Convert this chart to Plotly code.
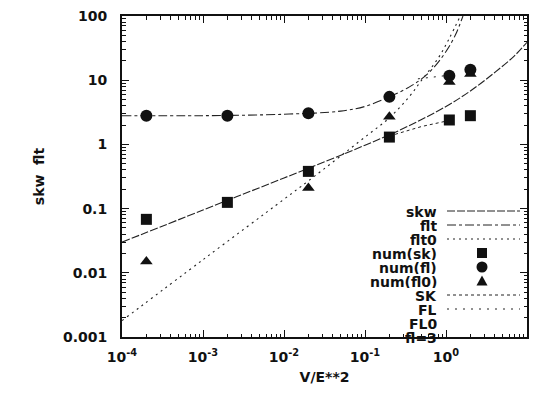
import plotly.graph_objects as go

# ---------------- data ----------------
num_x = [2e-4, 2e-3, 2e-2, 0.2, 1.1, 2.0]
num_sk = [0.068, 0.125, 0.38, 1.3, 2.4, 2.8]
num_fl = [2.8, 2.8, 3.05, 5.5, 11.7, 14.5]
num_fl0_x = [2e-4, 2e-2, 0.2, 1.1, 2.0]
num_fl0 = [0.015, 0.21, 2.7, 9.4, 12.5]

skw_x = [1e-4, 1e-3, 1e-2, 0.1, 0.3, 1.0, 2.0, 4.0, 7.0, 10.0]
skw_y = [0.030, 0.095, 0.30, 0.97, 1.78, 3.9, 6.8, 13.2, 24.0, 39.0]

flt_x = [1e-4, 1e-3, 1e-2, 0.05, 0.1, 0.2, 0.35, 0.5, 0.7, 1.0, 1.3, 1.62]
flt_y = [2.8, 2.8, 2.95, 3.3, 3.9, 5.5, 7.8, 10.5, 15.5, 28.0, 50.0, 100.0]

flt0_x = [1e-4, 1e-3, 1e-2, 2e-2, 0.1, 0.2, 0.35, 0.5, 0.8, 1.1, 1.5]
flt0_y = [0.0018, 0.016, 0.14, 0.27, 1.3, 2.6, 5.5, 10.0, 22.0, 45.0, 100.0]

sk_x = [0.2, 0.5, 1.0]
sk_y = [1.35, 1.9, 2.3]
fl_x = [0.45, 0.7, 1.0]
fl_y = [10.5, 11.3, 11.8]

legend_names = ["skw", "flt", "flt0", "num(sk)", "num(fl)", "num(fl0)", "SK", "FL", "FL0", "fl=3"]

y_tickvals = [0.001, 0.01, 0.1, 1, 10, 100]
y_ticktext = ["0.001", "0.01", "0.1", "1", "10", "100"]
x_tickvals = [1e-4, 1e-3, 1e-2, 1e-1, 1, 10]
x_ticktext = ["10<sup>-4</sup>", "10<sup>-3</sup>", "10<sup>-2</sup>", "10<sup>-1</sup>",
              "10<sup>0</sup>", "10<sup>1</sup>"]

# ---------------- styling ----------------
INK = "#111111"
LINE = "#222222"
FONT = "DejaVu Sans"
W_FIG, H_FIG = 540, 396
L, R, T, B = 122, 527, 16, 337

def px(x):
    return (x - L) / (R - L)

def py(y):
    return (B - y) / (B - T)

fig = go.Figure()

line_styles = {
    "skw": "8px,2px",
    "flt": "dashdot",
    "flt0": "2px,4px",
    "SK": "dot",
    "FL": "2px,6px",
}

fig.add_trace(go.Scatter(x=skw_x, y=skw_y, mode="lines", line=dict(color=LINE, width=1.1, dash=line_styles["skw"], shape="spline")))
fig.add_trace(go.Scatter(x=flt_x, y=flt_y, mode="lines", line=dict(color=LINE, width=1.1, dash=line_styles["flt"], shape="spline")))
fig.add_trace(go.Scatter(x=flt0_x, y=flt0_y, mode="lines", line=dict(color=LINE, width=1.1, dash=line_styles["flt0"], shape="spline")))
fig.add_trace(go.Scatter(x=sk_x, y=sk_y, mode="lines", line=dict(color=LINE, width=1, dash=line_styles["SK"])))
fig.add_trace(go.Scatter(x=fl_x, y=fl_y, mode="lines", line=dict(color=LINE, width=1, dash=line_styles["FL"])))

fig.add_trace(go.Scatter(x=num_x, y=num_sk, mode="markers", marker=dict(symbol="square", size=11, color=INK)))
fig.add_trace(go.Scatter(x=num_x, y=num_fl, mode="markers", marker=dict(symbol="circle", size=12, color=INK)))
fig.add_trace(go.Scatter(x=num_fl0_x, y=num_fl0, mode="markers", marker=dict(symbol="triangle-up", size=11, color=INK)))

# ---------------- manual gnuplot-style key ----------------
shapes = []
annotations = []
y0 = 211
dy = 14
tx = 438
lx0, lx1 = 447, 520
mx = 482
for i, name in enumerate(legend_names):
    yy = y0 + dy * i
    annotations.append(dict(x=px(tx), y=py(yy), xref="paper", yref="paper", text=name,
                            showarrow=False, xanchor="right", yanchor="middle",
                            height=13, valign="middle", borderpad=0,
                            font=dict(family=FONT, size=14, color=INK, weight="bold")))
    if name in line_styles:
        shapes.append(dict(type="line", xref="paper", yref="paper", x0=px(lx0), x1=px(lx1),
                           y0=py(yy), y1=py(yy), line=dict(color=LINE, width=1, dash=line_styles[name])))
    if name == "num(sk)":
        s = 5
        shapes.append(dict(type="rect", xref="paper", yref="paper", x0=px(mx - s), x1=px(mx + s),
                           y0=py(yy + s), y1=py(yy - s), fillcolor=INK, line=dict(width=0)))
    if name == "num(fl)":
        s = 5.5
        shapes.append(dict(type="circle", xref="paper", yref="paper", x0=px(mx - s), x1=px(mx + s),
                           y0=py(yy + s), y1=py(yy - s), fillcolor=INK, line=dict(width=0)))
    if name == "num(fl0)":
        s = 5.5
        path = "M {:.5f},{:.5f} L {:.5f},{:.5f} L {:.5f},{:.5f} Z".format(
            px(mx - s), py(yy + 4.5), px(mx + s), py(yy + 4.5), px(mx), py(yy - 5.5))
        shapes.append(dict(type="path", xref="paper", yref="paper", path=path,
                           fillcolor=INK, line=dict(width=0)))

axis_common = dict(
    type="log",
    showgrid=False,
    zeroline=False,
    showline=True,
    linecolor=INK,
    linewidth=2,
    mirror="allticks",
    ticks="inside",
    ticklen=7,
    tickwidth=1.2,
    tickcolor=INK,
    tickfont=dict(family=FONT, size=14, color=INK, weight="bold"),
    minor=dict(ticks="inside", ticklen=3.5, tickwidth=1, tickcolor=INK, dtick="D1", showgrid=False),
)

fig.update_layout(
    width=W_FIG, height=H_FIG,
    margin=dict(l=L, r=W_FIG - R, t=T, b=H_FIG - B, autoexpand=False),
    paper_bgcolor="white", plot_bgcolor="white",
    showlegend=False,
    shapes=shapes,
    annotations=annotations,
    xaxis=dict(axis_common, range=[-4, 1], tickvals=x_tickvals, ticktext=x_ticktext,
               ticklabelstandoff=6,
               title=dict(text="V/E**2", standoff=8,
                          font=dict(family=FONT, size=14, color=INK, weight="bold"))),
    yaxis=dict(axis_common, range=[-3, 2], tickvals=y_tickvals, ticktext=y_ticktext,
               ticklabelstandoff=10,
               title=dict(text="skw\u00a0 flt", standoff=15,
                          font=dict(family=FONT, size=14, color=INK, weight="bold"))),
)

fig.write_html("out.html")
